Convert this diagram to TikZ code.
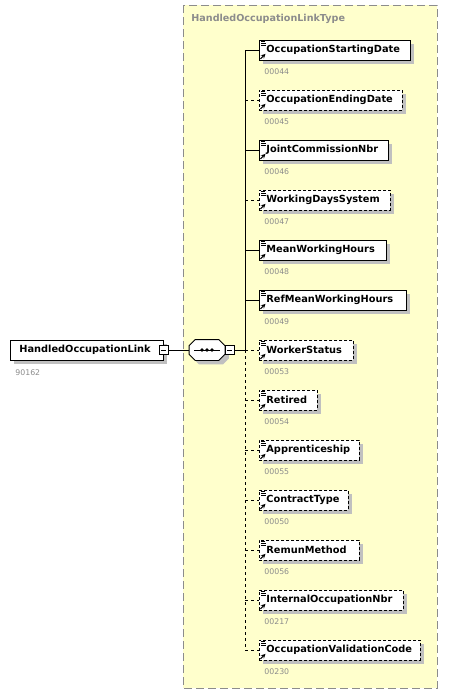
\documentclass[tikz,border=0pt]{standalone}
\usepackage{fontspec}
\newfontfamily\xsdfont{DejaVu Sans}
\usetikzlibrary{shadows}
\definecolor{typeyellow}{HTML}{FFFFCC}
\definecolor{typeborder}{HTML}{8C8C8C}
\definecolor{shadowgray}{HTML}{C0C0C0}
\definecolor{idgray}{HTML}{8C8C8C}

\begin{document}
\begin{tikzpicture}[x=1pt, y=-1pt, line width=0.8pt]
        \useasboundingbox (0,0) rectangle (458,694);
        \tikzstyle{boxshadow} = [general shadow={fill=shadowgray, shadow xshift=4pt, shadow yshift=-4pt}]
        \tikzstyle{elem} = [draw, fill=white, anchor=west, minimum height=20pt, inner xsep=0pt, inner ysep=0pt,
                            text width=#1, align=left, boxshadow,
                            font=\xsdfont\bfseries\fontsize{9.8}{11}\selectfont,
                            execute at begin node={\hspace*{7pt}}]
        \tikzstyle{optelem} = [elem=#1, dash pattern=on 3pt off 2pt]
        \tikzstyle{topelem} = [elem=#1, execute at begin node={\hspace*{2pt}}]
        \tikzstyle{idnum} = [anchor=west, inner sep=0pt, text=idgray, font=\xsdfont\fontsize{7.8}{9}\selectfont]
        \tikzstyle{minusbox} = [draw, fill=white, minimum size=9pt, inner sep=0pt,
                                path picture={\draw[line width=0.7pt] ([xshift=2pt]path picture bounding box.west) -- ([xshift=-2pt]path picture bounding box.east);}]
        \tikzstyle{seqbox} = [minimum width=35pt, minimum height=20pt, inner sep=0pt]
        \tikzstyle{tight} = [line width=0.8pt]
        \tikzstyle{untight} = [line width=0.8pt, dash pattern=on 3pt off 3pt]

        % complex type frame
        \draw[fill=typeyellow, draw=typeborder, dash pattern=on 8pt off 4pt] (183,5) rectangle (437,688);
        \node[anchor=west, inner sep=0pt, text=idgray, font=\xsdfont\bfseries\fontsize{9.6}{11}\selectfont] (typetitle) at (191,19) {HandledOccupationLinkType};

        % root element and sequence
        \node[topelem=153pt] (occlink) at (10,350) {HandledOccupationLink};
        \node[idnum] (id90162) at (15,373) {90162};
        \node[minusbox] (lminus) at (occlink.east) {};
        \node[seqbox] (seq) at (207,350) {};
        \draw[fill=white, boxshadow]
            ([xshift=6pt]seq.north west) -- ([xshift=-6pt]seq.north east) -- ([yshift=-6pt]seq.north east)
            -- ([yshift=6pt]seq.south east) -- ([xshift=-6pt]seq.south east) -- ([xshift=6pt]seq.south west)
            -- ([yshift=6pt]seq.south west) -- ([yshift=-6pt]seq.north west) -- cycle;
        \node[minusbox, anchor=west] (sminus) at (seq.east) {};
        \coordinate (trunk) at (245,350);
        \draw ([xshift=5pt]seq.west) -- ([xshift=-5pt]seq.east);
        \foreach \dx in {-5,0,5}
            \fill ([xshift=\dx pt]seq.center) circle[radius=1.8pt];

        % children
        \node[elem=151pt] (startdate) at (259,50) {OccupationStartingDate};
        \node[optelem=143pt] (enddate) at (259,100) {OccupationEndingDate};
        \node[elem=129pt] (jointcomm) at (259,150) {JointCommissionNbr};
        \node[optelem=131pt] (workdays) at (259,200) {WorkingDaysSystem};
        \node[elem=127pt] (meanhours) at (259,250) {MeanWorkingHours};
        \node[elem=147pt] (refhours) at (259,300) {RefMeanWorkingHours};
        \node[optelem=94pt] (workerstatus) at (259,350) {WorkerStatus};
        \node[optelem=58pt] (retired) at (259,400) {Retired};
        \node[optelem=100pt] (apprentice) at (259,450) {Apprenticeship};
        \node[optelem=89pt] (contract) at (259,500) {ContractType};
        \node[optelem=100pt] (remun) at (259,550) {RemunMethod};
        \node[optelem=144pt] (internalnbr) at (259,600) {InternalOccupationNbr};
        \node[optelem=161pt] (validcode) at (259,650) {OccupationValidationCode};

        \node[idnum] (id44) at (264,72) {00044};
        \node[idnum] (id45) at (264,122) {00045};
        \node[idnum] (id46) at (264,172) {00046};
        \node[idnum] (id47) at (264,222) {00047};
        \node[idnum] (id48) at (264,272) {00048};
        \node[idnum] (id49) at (264,322) {00049};
        \node[idnum] (id53) at (264,372) {00053};
        \node[idnum] (id54) at (264,422) {00054};
        \node[idnum] (id55) at (264,472) {00055};
        \node[idnum] (id50) at (264,522) {00050};
        \node[idnum] (id56) at (264,572) {00056};
        \node[idnum] (id217) at (264,622) {00217};
        \node[idnum] (id230) at (264,672) {00230};

        % element icons
        \foreach \n in {startdate,enddate,jointcomm,workdays,meanhours,refhours,workerstatus,
                        retired,apprentice,contract,remun,internalnbr,validcode} {
            \draw[line width=0.6pt, shift={(\n.north west)}] (2,2) -- (6,2) (2,4) -- (7,4) (2,6) -- (7,6);
            \draw[line width=1pt, -{stealth}, shift={(\n.south west)}] (1.5,-1.5) -- (6.5,-6.5);
        }

        % connectors
        \draw[tight] (lminus.east) -- (seq.west);
        \draw[tight] (sminus.east) -- (trunk);
        \draw[tight] (trunk) -- (startdate.west -| trunk);
        \draw[untight] (trunk) -- (validcode.west -| trunk);
        \foreach \n in {startdate,jointcomm,meanhours,refhours}
            \draw[tight] (\n.west -| trunk) -- (\n.west);
        \foreach \n in {enddate,workdays,workerstatus,retired,apprentice,contract,remun,internalnbr,validcode}
            \draw[untight] (\n.west -| trunk) -- (\n.west);
\end{tikzpicture}
\end{document}
